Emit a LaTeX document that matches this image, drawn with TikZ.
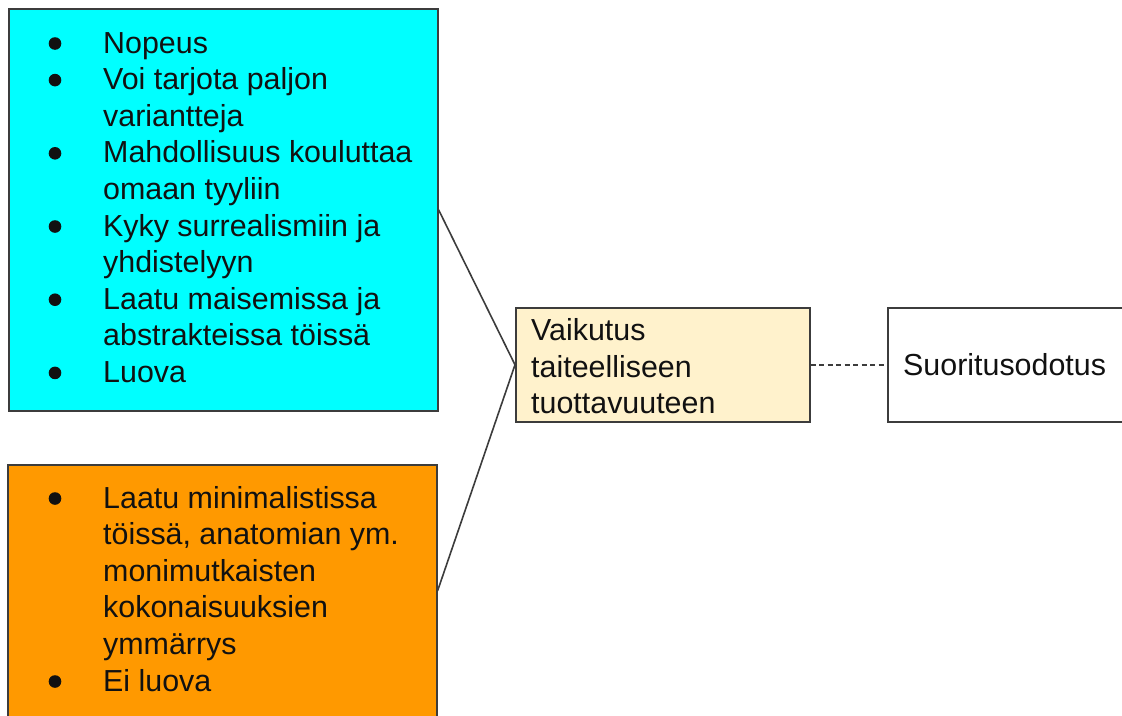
\documentclass[tikz,border=0pt]{standalone}
\usepackage{fontspec}
\setmainfont{Liberation Sans}
\definecolor{procyan}{HTML}{00FFFF}
\definecolor{conorange}{HTML}{FF9900}
\definecolor{impactyellow}{HTML}{FFF2CC}
\definecolor{edgegray}{HTML}{3C3C3C}
\definecolor{inkblack}{HTML}{111111}
\tikzset{
  box/.style={draw=edgegray, line width=1.6pt, rectangle, inner sep=0pt, anchor=north west},
  txt/.style={anchor=base west, inner sep=0pt, text=inkblack, font=\fontsize{30.4}{36.6}\selectfont},
  link/.style={draw=edgegray, line width=1.6pt},
  dashlink/.style={link, dash pattern=on 5pt off 3.5pt},
}
% bullet dot for a list line, given its baseline y
\newcommand{\bulletdot}[1]{\fill[inkblack] (55,#1-9.5) circle (6.3);}
\begin{document}
\begin{tikzpicture}[x=1pt,y=-1pt]
\path[use as bounding box, clip] (0,0) rectangle (1122,715);
\fill[white] (0,0) rectangle (1122,715);

% boxes
\node[box, fill=procyan, minimum width=429pt, minimum height=402pt] (pros) at (8,8) {};
\node[box, fill=conorange, minimum width=429pt, minimum height=252pt] (cons) at (7,464) {};
\node[box, fill=impactyellow, minimum width=294pt, minimum height=114pt] (impact) at (515,307) {};
\node[box, fill=white, minimum width=250pt, minimum height=114pt] (expect) at (887,307) {};

% connectors
\draw[link] (pros.east) -- (impact.west);
\draw[link] (cons.east) -- (impact.west);
\draw[dashlink] (impact.east) -- (expect.west);

% strengths
\bulletdot{53}
\node[txt] (p1) at (103,53) {Nopeus};
\bulletdot{89.6}
\node[txt] (p2a) at (103,89.6) {Voi tarjota paljon};
\node[txt] (p2b) at (103,126.2) {variantteja};
\bulletdot{162.8}
\node[txt] (p3a) at (103,162.8) {Mahdollisuus kouluttaa};
\node[txt] (p3b) at (103,199.4) {omaan tyyliin};
\bulletdot{236}
\node[txt] (p4a) at (103,236) {Kyky surrealismiin ja};
\node[txt] (p4b) at (103,272.6) {yhdistelyyn};
\bulletdot{309.2}
\node[txt] (p5a) at (103,309.2) {Laatu maisemissa ja};
\node[txt] (p5b) at (103,345.8) {abstrakteissa töissä};
\bulletdot{382.4}
\node[txt] (p6) at (103,382.4) {Luova};

% weaknesses
\bulletdot{508}
\node[txt] (c1a) at (103,508) {Laatu minimalistissa};
\node[txt] (c1b) at (103,544.6) {töissä, anatomian ym.};
\node[txt] (c1c) at (103,581.2) {monimutkaisten};
\node[txt] (c1d) at (103,617.8) {kokonaisuuksien};
\node[txt] (c1e) at (103,654.4) {ymmärrys};
\bulletdot{691}
\node[txt] (c2) at (103,691) {Ei luova};

% centre and right
\node[txt] (i1) at (531,340.5) {Vaikutus};
\node[txt] (i2) at (531,377) {taiteelliseen};
\node[txt] (i3) at (531,413.5) {tuottavuuteen};
\node[txt] (e1) at (903,375) {Suoritusodotus};
\end{tikzpicture}
\end{document}
